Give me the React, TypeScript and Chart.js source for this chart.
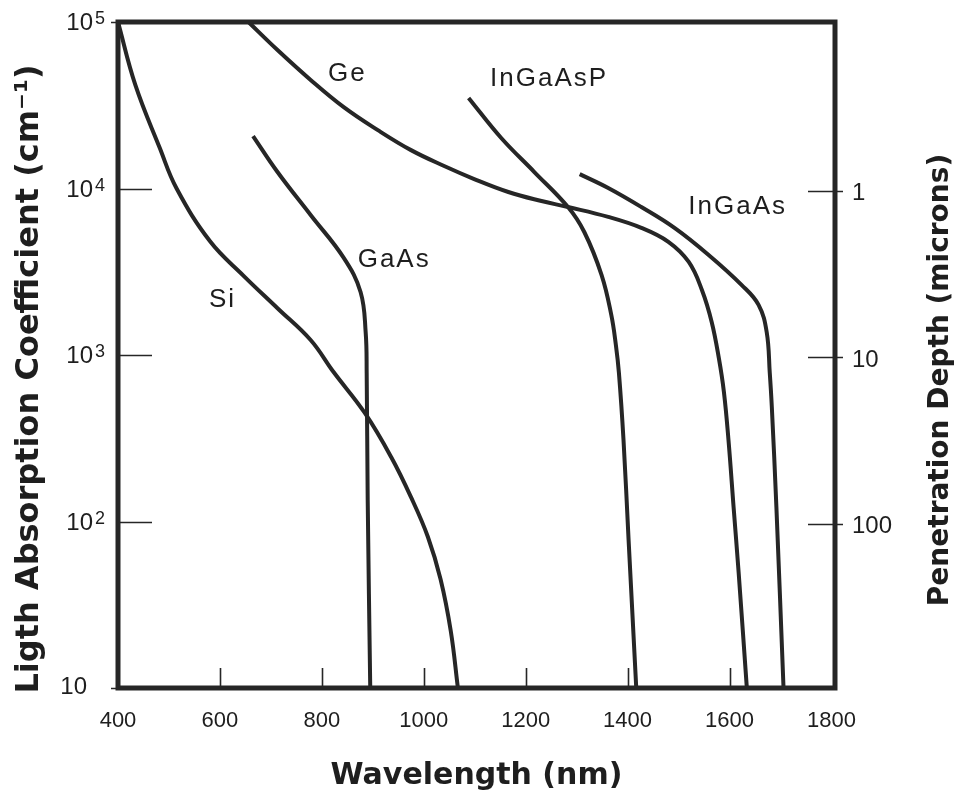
import React, { useEffect, useRef } from 'react';
import { Chart, registerables } from 'chart.js';

Chart.register(...registerables);

// ---- data (wavelength nm, absorption coefficient cm^-1) ----
const siWavelength = [400, 434, 482, 515, 581, 646, 713, 778, 823, 884, 936, 975, 1008, 1033, 1053, 1067];
const siAlpha = [100000, 41900, 17500, 10000, 4800, 3000, 1910, 1230, 790, 450, 244, 140, 81, 45, 22, 10];

const geWavelength = [656, 713, 778, 843, 910, 975, 1040, 1099, 1166, 1231, 1283, 1362, 1427, 1480, 1520, 1546, 1565, 1579, 1589, 1598, 1608, 1618, 1634];
const geAlpha = [100000, 67900, 44900, 30800, 22400, 17000, 13650, 11400, 9530, 8410, 7740, 6750, 5800, 4780, 3620, 2450, 1580, 960, 600, 308, 122, 49, 10];

const gaasWavelength = [665, 713, 778, 843, 876, 886, 888, 890, 895];
const gaasAlpha = [20650, 12560, 6930, 3830, 2390, 1370, 780, 135, 10];

const ingaaspWavelength = [1088, 1152, 1217, 1283, 1315, 1349, 1368, 1377, 1383, 1392, 1402, 1417];
const ingaaspAlpha = [35000, 20100, 12560, 7740, 5480, 3020, 1740, 1150, 780, 308, 77, 10];

const ingaasWavelength = [1306, 1362, 1427, 1492, 1559, 1624, 1657, 1673, 1679, 1683, 1692, 1706];
const ingaasAlpha = [12200, 10070, 7740, 5800, 3990, 2630, 2000, 1370, 780, 488, 122, 10];

const seriesNames = ['Si', 'Ge', 'GaAs', 'InGaAsP', 'InGaAs'];

// ---- axes ----
const xMin = 400;
const xMax = 1807;
const xTickValues = [400, 600, 800, 1000, 1200, 1400, 1600, 1800];
const xInnerTicks = [600, 800, 1000, 1200, 1400, 1600];
const yMin = 10;
const yMax = 100000;
const yDecadeValues = [10, 100, 1000, 10000, 100000];
const yDecadeExponents = ['', '2', '3', '4', '5'];
const yInnerTicks = [100, 1000, 10000];
const depthTickAlphas = [100, 1000, 10000];
const depthTickLabels = ['100', '10', '1'];

// ---- curve labels (data coordinates) ----
const labelTexts = ['Si', 'Ge', 'GaAs', 'InGaAsP', 'InGaAs'];
const labelWavelengths = [603, 848, 940, 1244, 1614];
const labelAlphas = [2140, 48800, 3720, 45500, 7740];

const xTitle = 'Wavelength (nm)';
const yTitle = 'Ligth Absorption Coefficient (cm\u207B\u00B9)';
const y2Title = 'Penetration Depth (microns)';

const INK = '#262626';
const TEXT = '#1e1e1e';
const SANS = '"Liberation Sans", Arial, sans-serif';
const WIDE = '"DejaVu Sans", Verdana, sans-serif';

function toPoints(xs: number[], ys: number[]) {
  return xs.map((x, i) => ({ x, y: ys[i] }));
}

const decorPlugin = {
  id: 'decor',
  afterDatasetsDraw(chart: any) {
    const { ctx, chartArea: a, scales } = chart;
    const xs = scales.x;
    const ys = scales.y;
    ctx.save();
    ctx.strokeStyle = INK;
    ctx.lineCap = 'butt';
    // inner tick marks
    ctx.lineWidth = 1.6;
    ctx.beginPath();
    for (const v of xInnerTicks) {
      const px = Math.round(xs.getPixelForValue(v)) + 0.5;
      ctx.moveTo(px, a.bottom);
      ctx.lineTo(px, a.bottom - 20);
    }
    for (const v of yInnerTicks) {
      const py = Math.round(ys.getPixelForValue(v)) + 0.5;
      ctx.moveTo(a.left, py);
      ctx.lineTo(a.left + 34, py);
    }
    for (const v of depthTickAlphas) {
      const py = Math.round(ys.getPixelForValue(v)) + 2.5;
      ctx.moveTo(a.right - 27, py);
      ctx.lineTo(a.right + 8, py);
    }
    for (const v of [yMin, yMax]) {
      const py = Math.round(ys.getPixelForValue(v)) + 0.5;
      ctx.moveTo(a.left - 7, py);
      ctx.lineTo(a.left, py);
    }
    ctx.stroke();

    // frame
    ctx.lineWidth = 5;
    ctx.strokeRect(a.left, a.top, a.right - a.left, a.bottom - a.top);

    // left decade labels with superscripts
    ctx.fillStyle = TEXT;
    ctx.textBaseline = 'alphabetic';
    yDecadeValues.forEach((v, i) => {
      const py = ys.getPixelForValue(v);
      const exp = yDecadeExponents[i];
      ctx.font = `24px ${SANS}`;
      ctx.textAlign = 'right';
      if (exp) {
        ctx.fillText('10', 93, py + 8);
        ctx.font = `18px ${SANS}`;
        ctx.textAlign = 'left';
        ctx.fillText(exp, 95, py + 2);
      } else {
        ctx.fillText('10', 87, py + 6);
      }
    });

    // right penetration-depth labels
    ctx.font = `24px ${SANS}`;
    ctx.textAlign = 'left';
    ctx.textBaseline = 'middle';
    depthTickAlphas.forEach((v, i) => {
      ctx.fillText(depthTickLabels[i], a.right + 17, ys.getPixelForValue(v) + 5);
    });

    // curve labels
    ctx.font = `26px ${SANS}`;
    (ctx as any).letterSpacing = '2px';
    ctx.textAlign = 'center';
    ctx.textBaseline = 'middle';
    labelTexts.forEach((t, i) => {
      ctx.fillText(t, xs.getPixelForValue(labelWavelengths[i]) + 1, ys.getPixelForValue(labelAlphas[i]));
    });
    (ctx as any).letterSpacing = '0px';

    // vertical axis titles (both read bottom-to-top)
    ctx.font = `bold 32px ${WIDE}`;
    ctx.textAlign = 'center';
    ctx.textBaseline = 'middle';
    ctx.save();
    ctx.translate(30, 379);
    ctx.rotate(-Math.PI / 2);
    ctx.fillText(yTitle, 0, 0);
    ctx.restore();
    ctx.font = `bold 28px ${WIDE}`;
    ctx.save();
    ctx.translate(941, 380);
    ctx.rotate(-Math.PI / 2);
    ctx.fillText(y2Title, 0, 0);
    ctx.restore();

    ctx.restore();
  },
};

export default function App() {
  const canvasRef = useRef<HTMLCanvasElement | null>(null);

  useEffect(() => {
    const canvas = canvasRef.current;
    if (!canvas) return;
    const lineStyle = {
      borderColor: INK,
      borderWidth: 4,
      pointRadius: 0,
      fill: false,
      tension: 0.4,
      borderJoinStyle: 'round' as const,
    };
    const allX = [siWavelength, geWavelength, gaasWavelength, ingaaspWavelength, ingaasWavelength];
    const allY = [siAlpha, geAlpha, gaasAlpha, ingaaspAlpha, ingaasAlpha];
    const chart = new Chart(canvas, {
      type: 'line',
      data: {
        datasets: seriesNames.map((name, i) => ({
          label: name,
          data: toPoints(allX[i], allY[i]),
          ...lineStyle,
        })),
      },
      plugins: [decorPlugin],
      options: {
        animation: false,
        responsive: true,
        maintainAspectRatio: false,
        layout: { padding: { top: 22, left: 0, right: 0, bottom: 0 } },
        plugins: { legend: { display: false }, tooltip: { enabled: false } },
        scales: {
          x: {
            type: 'linear',
            min: xMin,
            max: xMax,
            afterBuildTicks: (s: any) => {
              s.ticks = xTickValues.map((value) => ({ value }));
            },
            afterFit: (s: any) => {
              s.height = 113;
            },
            grid: { display: false, drawTicks: false },
            border: { display: false },
            ticks: {
              autoSkip: false,
              maxRotation: 0,
              padding: 20,
              color: TEXT,
              font: { family: SANS, size: 22 },
              callback: (v: any) => String(v),
            },
            title: {
              display: true,
              text: xTitle,
              color: TEXT,
              font: { family: WIDE, size: 30, weight: 'bold' },
              padding: { top: 0, bottom: 7 },
            },
          },
          y: {
            type: 'logarithmic',
            position: 'left',
            min: yMin,
            max: yMax,
            afterBuildTicks: (s: any) => {
              s.ticks = yDecadeValues.map((value) => ({ value }));
            },
            afterFit: (s: any) => {
              s.width = 118;
            },
            grid: { display: false, drawTicks: false },
            border: { display: false },
            ticks: { display: false },
            title: { display: false, text: yTitle },
          },
          y2: {
            type: 'logarithmic',
            position: 'right',
            min: yMin,
            max: yMax,
            afterBuildTicks: (s: any) => {
              s.ticks = depthTickAlphas.map((value) => ({ value }));
            },
            afterFit: (s: any) => {
              s.width = 131;
            },
            grid: { display: false, drawTicks: false },
            border: { display: false },
            ticks: { display: false },
            title: { display: false, text: y2Title },
          },
        },
      },
    });
    return () => chart.destroy();
  }, []);

  return (
    <div style={{ position: 'fixed', left: 0, top: 0, width: 966, height: 801, background: '#fff' }}>
      <canvas ref={canvasRef} />
    </div>
  );
}
